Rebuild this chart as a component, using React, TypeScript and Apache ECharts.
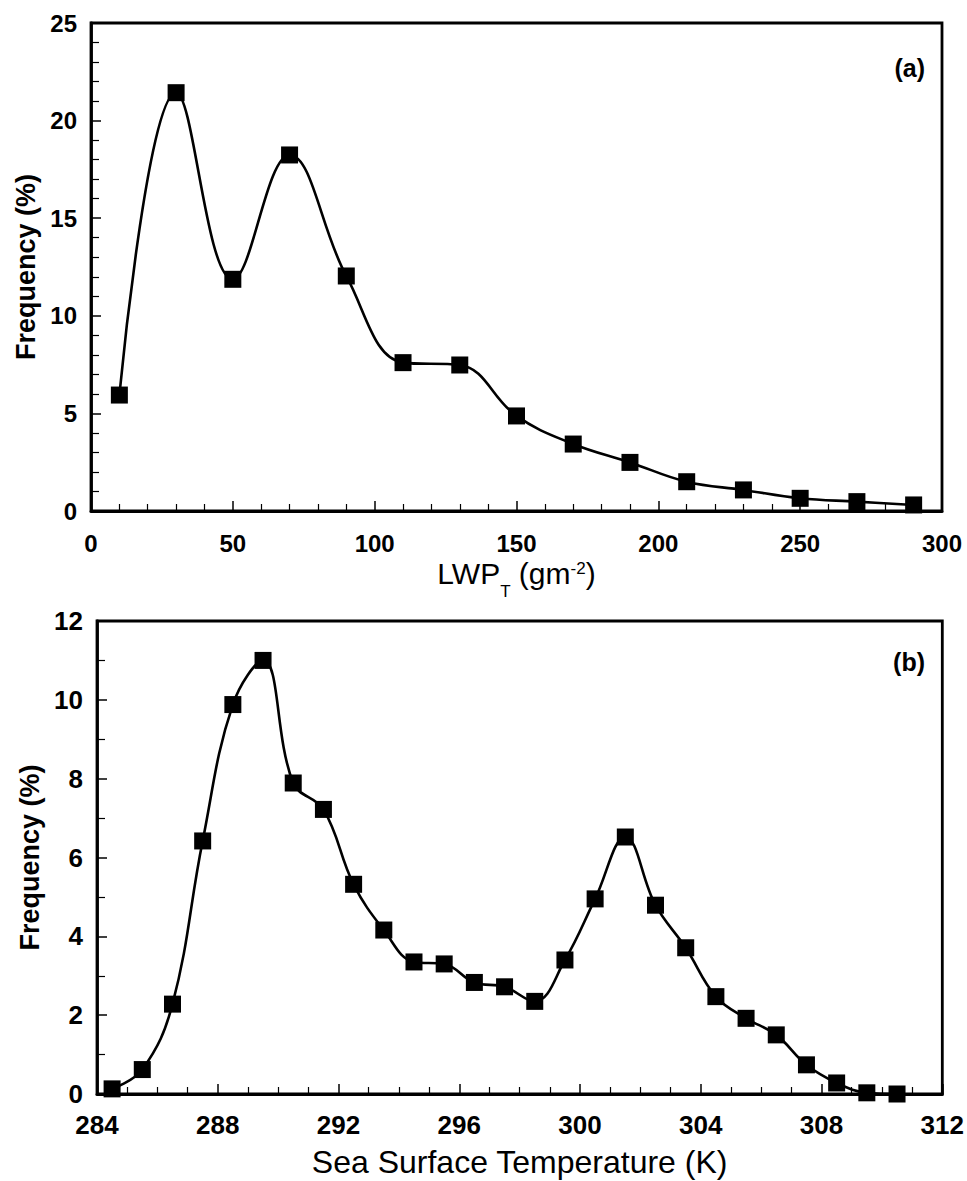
import * as echarts from 'echarts';
import { useEffect, useRef } from 'react';

// panel (a): liquid water path classes
const lwpX = [10, 30, 50, 70, 90, 110, 130, 150, 170, 190, 210, 230, 250, 270, 290];
const lwpFreq = [5.94, 21.43, 11.87, 18.24, 12.04, 7.6, 7.48, 4.87, 3.43, 2.49, 1.5, 1.08, 0.65, 0.48, 0.31];

// panel (b): sea surface temperature classes
const sstX = [
    284.5, 285.5, 286.5, 287.5, 288.5, 289.5, 290.5, 291.5, 292.5, 293.5, 294.5, 295.5, 296.5, 297.5,
    298.5, 299.5, 300.5, 301.5, 302.5, 303.5, 304.5, 305.5, 306.5, 307.5, 308.5, 309.5, 310.5
];
const sstFreq = [
    0.13, 0.62, 2.28, 6.42, 9.88, 11.0, 7.89, 7.22, 5.32, 4.16, 3.35, 3.3, 2.83, 2.72,
    2.35, 3.4, 4.95, 6.52, 4.79, 3.71, 2.47, 1.92, 1.5, 0.74, 0.28, 0.03, 0.0
];

const FONT = '"Liberation Sans", Arial, sans-serif';

const axisCommon = () => ({
    axisLine: { show: true, onZero: false, lineStyle: { color: '#000', width: 2.8 } },
    axisTick: { show: true, inside: true, length: 10, lineStyle: { color: '#000', width: 1.5 } },
    splitLine: { show: false }
});

const App = () => {
    const divRef = useRef<HTMLDivElement>(null);

    useEffect(() => {
        const chart = echarts.init(divRef.current!, undefined, { renderer: 'svg' });

        const lineSeries = (xs: number[], ys: number[], idx: number) => ({
            type: 'line',
            xAxisIndex: idx,
            yAxisIndex: idx,
            data: xs.map((x, i) => [x, ys[i]]),
            smooth: 0.4,
            clip: false,
            symbol: 'rect',
            symbolSize: 17,
            itemStyle: { color: '#000' },
            lineStyle: { color: '#000', width: 2.6 }
        });

        chart.setOption({
            animation: false,
            backgroundColor: '#fff',
            textStyle: { fontFamily: FONT },
            grid: [
                { left: 91, right: 25, top: 23, height: 488, show: true, borderColor: '#000', borderWidth: 2.8 },
                { left: 97, right: 20, top: 621, height: 473, show: true, borderColor: '#000', borderWidth: 2.8 }
            ],
            xAxis: [
                {
                    ...axisCommon(),
                    type: 'value', gridIndex: 0, min: 0, max: 300, interval: 50,
                    minorTick: { show: true, splitNumber: 5, length: 7, lineStyle: { color: '#000', width: 1.2 } },
                    axisLabel: { color: '#000', fontFamily: FONT, fontWeight: 'bold', fontSize: 24, margin: 20 },
                    name: '{a|LWP}{sub|T}{a| (gm}{sup|-2}{a|)}',
                    nameLocation: 'middle',
                    nameGap: 43,
                    nameTextStyle: {
                        color: '#000',
                        rich: {
                            a: { fontFamily: FONT, fontSize: 30, color: '#000', lineHeight: 36 },
                            sub: { fontFamily: FONT, fontSize: 17, color: '#000', lineHeight: 17, verticalAlign: 'top', padding: [27, 0, 0, 0] },
                            sup: { fontFamily: FONT, fontSize: 17, color: '#000', lineHeight: 17, verticalAlign: 'top', padding: [4, 0, 0, 0] }
                        }
                    }
                },
                {
                    ...axisCommon(),
                    type: 'value', gridIndex: 1, min: 284, max: 312, interval: 4,
                    minorTick: { show: true, splitNumber: 4, length: 7, lineStyle: { color: '#000', width: 1.2 } },
                    axisLabel: { color: '#000', fontFamily: FONT, fontWeight: 'bold', fontSize: 26, margin: 18 },
                    name: 'Sea Surface Temperature (K)',
                    nameLocation: 'middle',
                    nameGap: 52,
                    nameTextStyle: { color: '#000', fontFamily: FONT, fontSize: 32 }
                }
            ],
            yAxis: [
                {
                    ...axisCommon(),
                    type: 'value', gridIndex: 0, min: 0, max: 25, interval: 5,
                    minorTick: { show: true, splitNumber: 5, length: 8, lineStyle: { color: '#000', width: 1.2 } },
                    axisLabel: { color: '#000', fontFamily: FONT, fontWeight: 'bold', fontSize: 24, margin: 14 },
                    name: 'Frequency (%)',
                    nameLocation: 'middle',
                    nameGap: 48,
                    nameTextStyle: { color: '#000', fontFamily: FONT, fontSize: 27, fontWeight: 'bold' }
                },
                {
                    ...axisCommon(),
                    type: 'value', gridIndex: 1, min: 0, max: 12, interval: 2,
                    minorTick: { show: true, splitNumber: 2, length: 8, lineStyle: { color: '#000', width: 1.2 } },
                    axisLabel: { color: '#000', fontFamily: FONT, fontWeight: 'bold', fontSize: 26, margin: 14 },
                    name: 'Frequency (%)',
                    nameLocation: 'middle',
                    nameGap: 52,
                    nameTextStyle: { color: '#000', fontFamily: FONT, fontSize: 27, fontWeight: 'bold' }
                }
            ],
            graphic: [
                {
                    type: 'text', right: 42, top: 55,
                    style: { text: '(a)', fill: '#000', font: 'bold 25px ' + FONT }
                },
                {
                    type: 'text', right: 42, top: 649,
                    style: { text: '(b)', fill: '#000', font: 'bold 25px ' + FONT }
                }
            ],
            series: [lineSeries(lwpX, lwpFreq, 0), lineSeries(sstX, sstFreq, 1)]
        });

        return () => {
            chart.dispose();
        };
    }, []);

    return (
        <div
            ref={divRef}
            style={{ position: 'absolute', left: 0, top: 0, width: '967px', height: '1181px' }}
        ></div>
    );
};

export default App;
